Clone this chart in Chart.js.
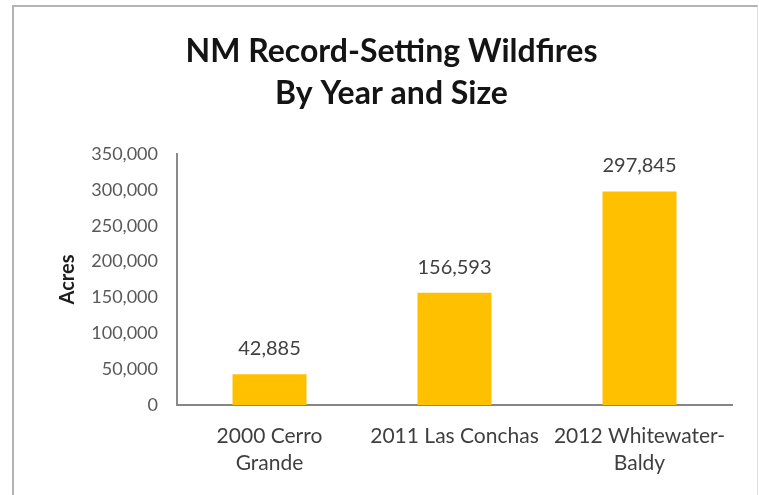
<!DOCTYPE html>
<html>
<head>
<meta charset="utf-8">
<script src="https://cdn.jsdelivr.net/npm/chart.js@4/dist/chart.umd.min.js"></script>
<style>
  html, body { margin: 0; padding: 0; background: #ffffff; }
  #wrap { position: relative; width: 759px; height: 495px; overflow: hidden; }
  #frame { position: absolute; left: 12px; top: 5px; width: 743px; height: 520px;
           border-top: 2px solid #b4b4b4; border-left: 2px solid #b4b4b4; border-right: 1px solid #e2e2e2; }
  canvas { position: absolute; left: 0; top: 0; }
</style>
</head>
<body>
<div id="wrap">
  <div id="frame"></div>
  <canvas id="c" width="759" height="495"></canvas>
</div>
<script>
const titleLines = ["NM Record-Setting Wildfires", "By Year and Size"];
const categories = [["2000 Cerro", "Grande"], ["2011 Las Conchas"], ["2012 Whitewater-", "Baldy"]];
const acres = [42885, 156593, 297845];
const yTicks = [0, 50000, 100000, 150000, 200000, 250000, 300000, 350000];
const yAxisTitle = "Acres";

const fmt = v => Number(v).toLocaleString('en-US');

const valueLabels = {
  id: 'valueLabels',
  afterDatasetsDraw(chart) {
    const ctx = chart.ctx;
    const meta = chart.getDatasetMeta(0);
    ctx.save();
    ctx.font = '20px Lato';
    ctx.fillStyle = '#404040';
    ctx.textAlign = 'center';
    ctx.textBaseline = 'alphabetic';
    meta.data.forEach((bar, i) => {
      ctx.fillText(fmt(chart.data.datasets[0].data[i]), bar.x, bar.y - 19);
    });
    ctx.restore();
  }
};

new Chart(document.getElementById('c'), {
  type: 'bar',
  data: {
    labels: categories,
    datasets: [{
      data: acres,
      backgroundColor: '#FFC000',
      borderWidth: 0,
      barPercentage: 0.4,
      categoryPercentage: 1.0
    }]
  },
  options: {
    responsive: false,
    devicePixelRatio: 1,
    animation: false,
    layout: { padding: { top: 0, left: 24, right: 0, bottom: 0 } },
    plugins: {
      legend: { display: false },
      tooltip: { enabled: false },
      title: {
        display: true,
        text: titleLines,
        color: '#141414',
        font: { family: 'Lato', size: 32, weight: 'bold', lineHeight: 1.328 },
        padding: { top: 30, bottom: 39 }
      }
    },
    scales: {
      x: {
        grid: { display: false, drawTicks: false },
        border: { display: true, color: '#858585', width: 2 },
        ticks: {
          color: '#3f3f3f',
          font: { family: 'Lato', size: 21, lineHeight: 1.31 },
          padding: 17,
          maxRotation: 0,
          autoSkip: false
        },
        afterFit: s => { s.height = 90; }
      },
      y: {
        min: 0,
        max: 350000,
        afterBuildTicks: s => { s.ticks = yTicks.map(v => ({ value: v })); },
        grid: { display: false, drawTicks: false },
        border: { display: true, color: '#8a8a8a', width: 2 },
        ticks: {
          color: '#595959',
          font: { family: 'Lato', size: 18 },
          padding: 19,
          callback: v => fmt(v)
        },
        title: {
          display: true,
          text: yAxisTitle,
          color: '#1e1e1e',
          font: { family: 'Lato', size: 20, weight: 'bold', lineHeight: 1.2 },
          padding: { top: 32, bottom: 0 }
        },
        afterFit: s => { s.width = 153; }
      },
      yR: {
        position: 'right',
        display: true,
        grid: { display: false, drawTicks: false },
        border: { display: false },
        ticks: { display: false },
        afterFit: s => { s.width = 27; }
      }
    }
  },
  plugins: [valueLabels]
});
</script>
</body>
</html>
